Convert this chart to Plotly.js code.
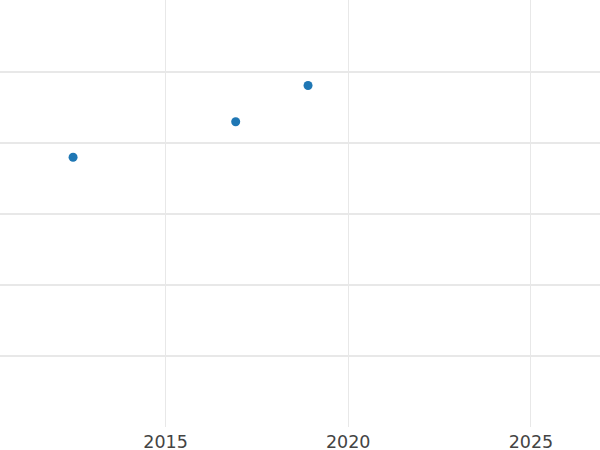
<!DOCTYPE html>
<html>
<head>
<meta charset="utf-8">
<script src="https://cdn.plot.ly/plotly-3.0.1.min.js"></script>
<style>html,body{margin:0;padding:0;background:#fff;}#chart{width:600px;height:450px;}</style>
</head>
<body>
<div id="chart"></div>
<script>
const years = [2012.47, 2016.92, 2018.9];
const values = [3.8, 4.3, 4.81];

Plotly.newPlot('chart', [{
  type: 'scatter',
  mode: 'markers',
  x: years,
  y: values,
  marker: {color: '#1f77b4', size: 9}
}], {
  width: 600,
  height: 450,
  margin: {l: 0, r: 0, t: 0, b: 23, pad: 0},
  paper_bgcolor: '#fff',
  plot_bgcolor: '#fff',
  showlegend: false,
  xaxis: {
    range: [2010.47, 2026.89],
    tickvals: [2015, 2020, 2025],
    ticktext: ['2015', '2020', '2025'],
    showgrid: true,
    gridcolor: '#e8e8e8',
    zeroline: false,
    showline: false,
    ticks: '',
    ticklabelstandoff: 2,
    tickfont: {family: 'DejaVu Sans', size: 17.5, color: '#444'}
  },
  yaxis: {
    range: [0, 6.014],
    dtick: 1,
    showgrid: true,
    gridcolor: '#e8e8e8',
    gridwidth: 1.2,
    zeroline: false,
    showline: false,
    showticklabels: false,
    ticks: ''
  }
}, {displayModeBar: false, staticPlot: true});
</script>
</body>
</html>
